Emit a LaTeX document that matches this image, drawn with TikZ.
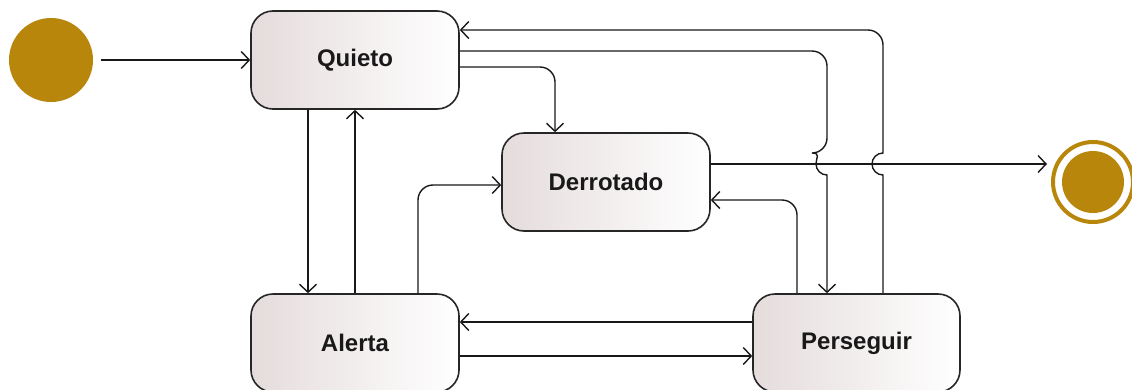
\documentclass[tikz,border=0pt]{standalone}
\usepackage{fontspec}
\setmainfont{Liberation Sans}
\usetikzlibrary{arrows.meta,calc}
\definecolor{gold}{RGB}{184,134,11}
\definecolor{boxl}{RGB}{229,220,220}
\begin{document}
\begin{tikzpicture}[x=1pt,y=-1pt,
  state/.style={draw=black!85,line width=1.6pt,rounded corners=22pt,
    minimum width=208pt,minimum height=98pt,left color=boxl,right color=white,
    font=\fontsize{24}{28}\selectfont\bfseries,text=black!90,inner sep=0pt},
  conn/.style={draw=black!90,line width=1.4pt,-{Straight Barb[length=8pt,width=17pt]}},
  rc/.style={rounded corners=15pt}]
\useasboundingbox (0,0) rectangle (1132,389);
\begin{scope}
\clip (0,0) rectangle (1132,389);
\node[fill=gold,circle,minimum size=84pt,inner sep=0pt] (init) at (51,60) {};
\node[state] (Q) at (355,60) {Quieto};
\node[state] (D) at (606,182) {Derrotado};
\node[state] (A) at (355,343) {Alerta};
\node[state,minimum width=207pt] (P) at (856.5,343) {Perseguir};
\node[circle,draw=gold,line width=4pt,minimum size=80pt,inner sep=0pt] (fin) at (1093,182) {};
\node[circle,fill=gold,minimum size=62pt,inner sep=0pt] (finin) at (fin.center) {};

% initial
\draw[conn,shorten <=8pt] (init.east) -- (Q.west);
% Perseguir -> Quieto (top line, with jump)
\draw[conn] ([xshift=26.5pt]P.north) -- (883,175) arc[start angle=90,end angle=270,radius=11]
   [rc] -- (883,30) -- ([yshift=30pt]Q.east);
% Quieto -> Perseguir (with jump)
\draw[conn] ([yshift=9pt]Q.east) [rc] -- (827,51) -- (827,153) [sharp corners]
   arc[start angle=270,end angle=90,radius=11] -- ([xshift=-29.5pt]P.north);
% Quieto -> Derrotado
\draw[conn,rc] ([yshift=-7pt]Q.east) -| ([xshift=-51pt]D.north);
% Quieto -> Alerta
\draw[conn] ([xshift=-47pt]Q.south) -- ([xshift=-47pt]A.north);
% Alerta -> Quieto
\draw[conn] (A.north) -- (Q.south);
% Alerta -> Derrotado
\draw[conn,rc] ([xshift=63pt]A.north) |- ([yshift=-3pt]D.west);
% Derrotado -> final
\draw[conn,shorten >=4pt] ([yshift=18pt]D.east) -- ([yshift=18pt]fin.west);
% Perseguir -> Derrotado
\draw[conn,rc] ([xshift=-59.5pt]P.north) |- ([yshift=-18pt]D.east);
% Perseguir -> Alerta
\draw[conn] ([yshift=21pt]P.west) -- ([yshift=21pt]A.east);
% Alerta -> Perseguir
\draw[conn] ([yshift=-13pt]A.east) -- ([yshift=-13pt]P.west);
\end{scope}
\end{tikzpicture}
\end{document}
